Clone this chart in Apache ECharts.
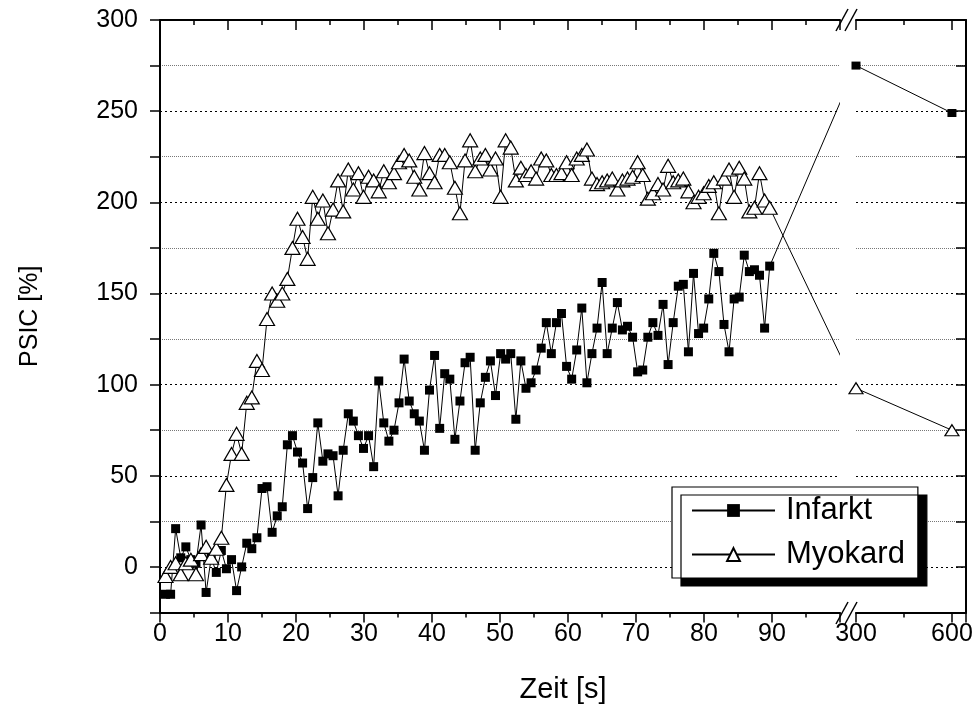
<!DOCTYPE html>
<html><head><meta charset="utf-8">
<script src="https://cdn.jsdelivr.net/npm/echarts@6/dist/echarts.min.js"></script>
<style>html,body{margin:0;padding:0;background:#fff}#c{width:979px;height:717px}</style>
</head><body><div id="c"></div>
<script>
// ---- data ----
const times = [0.81,1.56,2.30,3.05,3.80,4.54,5.29,6.04,6.78,7.53,8.28,9.02,9.77,10.52,11.26,12.01,12.76,13.50,14.25,15.00,
15.74,16.49,17.24,17.98,18.73,19.48,20.22,20.97,21.71,22.46,23.21,23.95,24.70,25.45,26.19,26.94,27.69,28.43,29.18,29.93,
30.67,31.42,32.17,32.91,33.66,34.41,35.15,35.90,36.65,37.39,38.14,38.89,39.63,40.38,41.13,41.87,42.62,43.37,44.11,44.86,
45.61,46.35,47.10,47.85,48.59,49.34,50.09,50.83,51.58,52.33,53.07,53.82,54.57,55.31,56.06,56.81,57.55,58.30,59.04,59.79,
60.54,61.28,62.03,62.78,63.52,64.27,65.02,65.76,66.51,67.26,68.00,68.75,69.50,70.24,70.99,71.74,72.48,73.23,73.98,74.72,
75.47,76.22,76.96,77.71,78.46,79.20,79.95,80.70,81.44,82.19,82.94,83.68,84.43,85.18,85.92,86.67,87.42,88.16,88.91,89.66];
const infarkt = [-15,-15,21,5,11,4,2,23,-14,5,-3,9,-1,4,-13,0,13,10,16,43,
44,19,28,33,67,72,63,57,32,49,79,58,62,61,39,64,84,80,72,65,
72,55,102,79,69,75,90,114,91,84,80,64,97,116,76,106,103,70,91,112,
115,64,90,104,113,94,117,114,117,81,113,98,101,108,120,134,117,134,139,110,
103,119,142,101,117,131,156,117,131,145,130,132,126,107,108,126,134,127,144,111,
134,154,155,118,161,128,131,147,172,162,133,118,147,148,171,162,163,160,131,165];
const myokard = [-5,0,2,-4,2,4,-4,7,11,5,10,16,45,62,73,62,90,93,113,108,
136,150,146,150,158,175,191,181,169,203,191,201,183,196,212,195,218,207,216,203,
214,212,206,217,211,216,222,226,223,214,207,227,216,211,226,226,222,208,194,223,
234,217,224,226,218,224,203,234,230,212,219,215,217,213,224,223,215,215,216,222,
215,224,226,229,213,210,211,212,213,207,212,213,214,222,215,202,205,210,207,220,
211,212,213,206,200,203,205,209,211,194,213,218,203,219,213,195,197,216,201,197];
const lateTimes = [300, 600];
const infarktLate = [275, 249];
const myokardLate = [98, 75];
const yTickLabels = [0, 50, 100, 150, 200, 250, 300];
const xTickLabelsLeft = [0, 10, 20, 30, 40, 50, 60, 70, 80, 90];
const xTickLabelsRight = [300, 600];

const FONT = 'Liberation Sans, Arial, Helvetica, sans-serif';
const pair = (xs, ys) => xs.map((x, i) => [x, ys[i]]);

const chart = echarts.init(document.getElementById('c'), null, {renderer: 'canvas'});

function bridge(name, ys, lateYs) {
  const n = ys.length - 1;
  return {
    name: name, type: 'custom', xAxisIndex: 0, yAxisIndex: 0, clip: true, silent: true, z: 2,
    encode: {x: 0, y: 1},
    data: [[times[n], ys[n], lateTimes[0], lateYs[0]]],
    renderItem: function (params, api) {
      const p1 = api.coord([api.value(0), api.value(1)]);
      const p2 = chart.convertToPixel({xAxisIndex: 2, yAxisIndex: 1}, [api.value(2), api.value(3)]);
      return {type: 'line', shape: {x1: p1[0], y1: p1[1], x2: p2[0], y2: p2[1]},
              style: {stroke: '#000', lineWidth: 1}};
    }
  };
}

const axisLineStyle = {show: true, onZero: false, lineStyle: {color: '#000', width: 2}};
function xAxisCfg(grid, pos, min, max, interval, labels, withLabels) {
  return {
    type: 'value', gridIndex: grid, position: pos, min: min, max: max, interval: interval,
    axisLine: axisLineStyle,
    axisTick: {show: true, inside: pos === 'top', length: 10, lineStyle: {color: '#000', width: 1.5}},
    minorTick: {show: true, splitNumber: 2, length: 5, lineStyle: {color: '#000', width: 1.5}},
    axisLabel: {show: withLabels, fontSize: 25, color: '#000', fontFamily: FONT, margin: 9,
      formatter: v => labels.indexOf(v) >= 0 ? String(v) : ''},
    splitLine: {show: false}
  };
}

const option = {
  animation: false,
  backgroundColor: '#fff',
  grid: [
    {left: 160, top: 20, width: 680, height: 592.5},
    {left: 856, top: 20, width: 110, height: 592.5}
  ],
  xAxis: [
    Object.assign(xAxisCfg(0, 'bottom', 0, 100, 10, xTickLabelsLeft, true), {
      name: 'Zeit [s]', nameLocation: 'middle', nameGap: 63,
      nameTextStyle: {fontSize: 29, color: '#000', fontFamily: FONT, padding: [0, 0, 0, 126]}
    }),
    xAxisCfg(0, 'top', 0, 100, 10, xTickLabelsLeft, false),
    xAxisCfg(1, 'bottom', 300, 644, 300, xTickLabelsRight, true),
    xAxisCfg(1, 'top', 300, 644, 300, xTickLabelsRight, false)
  ],
  yAxis: [
    {
      type: 'value', gridIndex: 0, position: 'left', min: -25, max: 300, interval: 25,
      axisLine: axisLineStyle,
      axisTick: {show: true, length: 10, lineStyle: {color: '#000', width: 1.5}},
      axisLabel: {fontSize: 25, color: '#000', fontFamily: FONT, margin: 22,
        formatter: v => yTickLabels.indexOf(v) >= 0 ? String(v) : ''},
      splitLine: {show: true, lineStyle: {color: ['rgba(0,0,0,0)', '#000'], width: 1, type: [2, 3]}},
      name: 'PSIC [%]', nameLocation: 'middle', nameGap: 117,
      nameTextStyle: {fontSize: 25, color: '#000', fontFamily: FONT}
    },
    {
      type: 'value', gridIndex: 1, position: 'right', min: -25, max: 300, interval: 25,
      axisLine: axisLineStyle,
      axisTick: {show: true, inside: true, length: 10, lineStyle: {color: '#000', width: 1.5}},
      axisLabel: {show: false},
      splitLine: {show: true, lineStyle: {color: ['rgba(0,0,0,0)', '#000'], width: 1, type: [2, 3]}}
    },
    {
      type: 'value', gridIndex: 0, position: 'right', min: -25, max: 300, interval: 50,
      axisLine: {show: false}, axisTick: {show: false}, axisLabel: {show: false},
      splitLine: {show: true, lineStyle: {color: '#777', width: 1, type: [1, 1]}}
    },
    {
      type: 'value', gridIndex: 1, position: 'left', min: -25, max: 300, interval: 50,
      axisLine: {show: false}, axisTick: {show: false}, axisLabel: {show: false},
      splitLine: {show: true, lineStyle: {color: '#777', width: 1, type: [1, 1]}}
    }
  ],
  legend: {
    left: 672, top: 487, orient: 'vertical', selectedMode: false,
    padding: [8, 13, 8, 19], itemGap: 13, itemWidth: 83, itemHeight: 16,
    backgroundColor: '#fff', borderColor: '#000', borderWidth: 1.2,
    shadowColor: '#000', shadowOffsetX: 9, shadowOffsetY: 8, shadowBlur: 0,
    textStyle: {fontSize: 31, color: '#000', fontFamily: FONT, padding: [0, 0, 0, 6]},
    data: ['Infarkt', 'Myokard']
  },
  series: [
    {
      name: 'Infarkt', type: 'line', xAxisIndex: 0, yAxisIndex: 0, z: 3,
      data: pair(times, infarkt), symbol: 'rect', symbolSize: 9, showAllSymbol: true,
      itemStyle: {color: '#000'}, lineStyle: {color: '#000', width: 1}
    },
    {
      name: 'Myokard', type: 'line', xAxisIndex: 0, yAxisIndex: 0, z: 4,
      data: pair(times, myokard), symbol: 'triangle', symbolSize: [15, 13], showAllSymbol: true,
      itemStyle: {color: '#fff', borderColor: '#000', borderWidth: 1.2}, lineStyle: {color: '#000', width: 1}
    },
    bridge('Infarkt', infarkt, infarktLate),
    bridge('Myokard', myokard, myokardLate),
    {
      name: 'Infarkt', type: 'line', xAxisIndex: 2, yAxisIndex: 1, z: 3,
      data: pair(lateTimes, infarktLate), symbol: 'rect', symbolSize: [9, 8],
      itemStyle: {color: '#000'}, lineStyle: {color: '#000', width: 1}
    },
    {
      name: 'Myokard', type: 'line', xAxisIndex: 2, yAxisIndex: 1, z: 4,
      data: pair(lateTimes, myokardLate), symbol: 'triangle', symbolSize: [14, 11],
      itemStyle: {color: '#fff', borderColor: '#000', borderWidth: 1.2}, lineStyle: {color: '#000', width: 1}
    }
  ],
  graphic: [
    {type: 'line', z: 100, shape: {x1: 836, y1: 31, x2: 848, y2: 9}, style: {stroke: '#000', lineWidth: 1.5}},
    {type: 'line', z: 100, shape: {x1: 845, y1: 31, x2: 857, y2: 9}, style: {stroke: '#000', lineWidth: 1.5}},
    {type: 'line', z: 100, shape: {x1: 836, y1: 624, x2: 848, y2: 602}, style: {stroke: '#000', lineWidth: 1.5}},
    {type: 'line', z: 100, shape: {x1: 845, y1: 624, x2: 857, y2: 602}, style: {stroke: '#000', lineWidth: 1.5}}
  ]
};
chart.setOption(option);
</script>
</body></html>
